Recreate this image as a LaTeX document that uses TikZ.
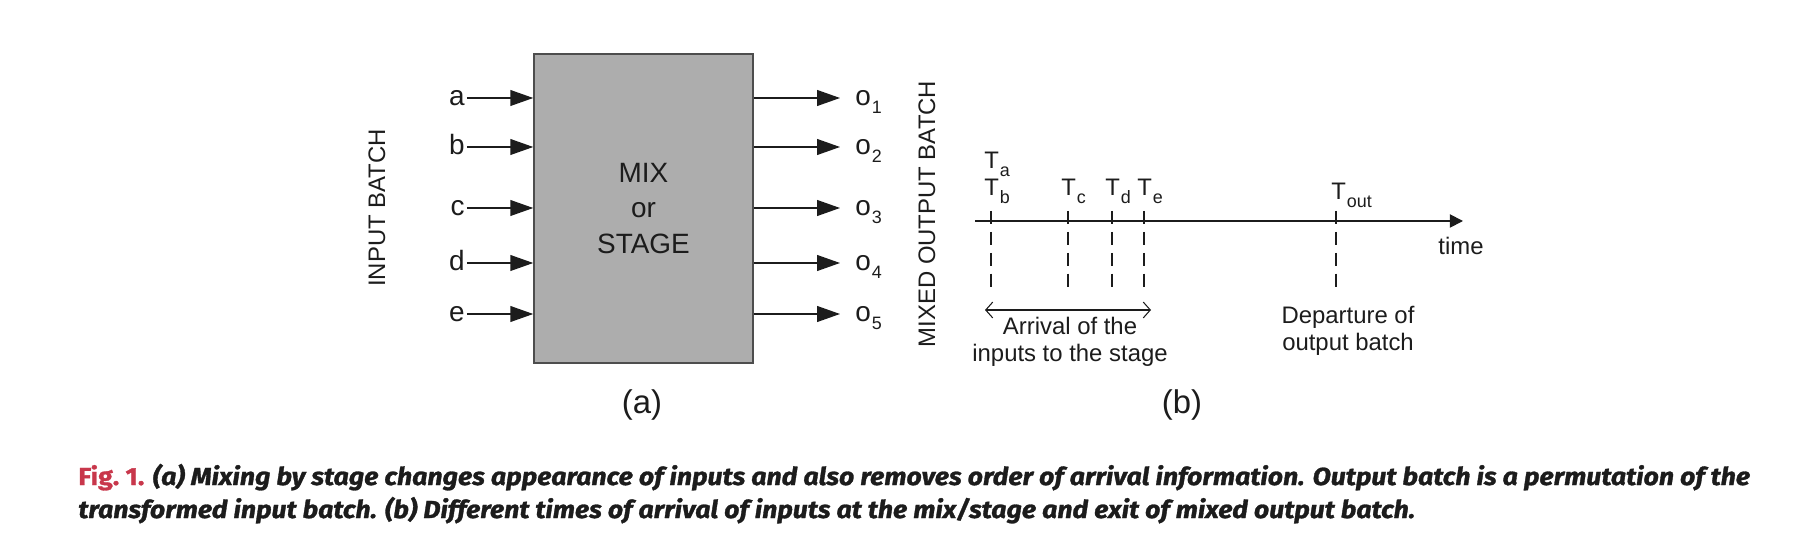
\documentclass[tikz,border=0pt]{standalone}
\usepackage{fontspec}
\setmainfont{Liberation Sans}
\newfontfamily\capfont[BoldFeatures={FakeBold=1.2}, BoldItalicFeatures={FakeBold=1.2}]{Fira Sans}
\usepackage{graphicx}
\usetikzlibrary{arrows.meta}
\definecolor{boxgray}{HTML}{ADADAD}
\definecolor{linegray}{HTML}{4D4D4D}
\definecolor{inkgray}{HTML}{1C1C1C}
\definecolor{figred}{HTML}{C8374B}
\newcommand{\lowsub}[1]{\kern0.5pt\raisebox{-4.5pt}{\fontsize{10.2pt}{12pt}\selectfont #1}}
\newcommand{\bigfont}{\fontsize{15.9pt}{20.1pt}\selectfont}
\newcommand{\smallfont}{\fontsize{13.6pt}{15.3pt}\selectfont}
\tikzset{
  inarrow/.style={draw=inkgray, line width=0.75pt, -{Triangle[length=13pt,width=9pt]}},
  timearrow/.style={draw=inkgray, line width=1pt, -{Triangle[length=7.5pt,width=7.5pt]}},
  spanarrow/.style={draw=inkgray, line width=0.6pt, {Straight Barb[length=4pt,width=9pt]}-{Straight Barb[length=4pt,width=9pt]}},
  tickline/.style={draw=inkgray, line width=0.6pt, dash pattern=on 7.4pt off 4.5pt},
  iolabel/.style={inner sep=0pt, text height=8.3pt, text depth=0pt, font=\bigfont, text=inkgray},
  tlabel/.style={anchor=base west, inner sep=0pt, font=\smallfont, text=inkgray},
}

\begin{document}
\begin{tikzpicture}[x=0.02cm, y=-0.02cm]
%%%%%%%%%%%%%%%%%%
\useasboundingbox (0,0) rectangle (1817,553);

%Stage box
    \node[draw=linegray, line width=0.9pt, fill=boxgray, minimum width=4.38cm, minimum height=6.18cm,
          align=center, font=\bigfont, text=inkgray] (box) at (643.5,208.5) {MIX\\or\\STAGE};
    \node[rotate=90, font=\smallfont, text=inkgray] (inbatch) at (377,208) {INPUT BATCH};

%Inputs and outputs
	\foreach \n/\y in {a/98, b/147, c/208, d/263, e/314}
	{
		\node[iolabel, anchor=east] (in\n) at (465,\y) {\n};
		\draw[inarrow] ([xshift=1pt]in\n.east) -- (in\n.east -| box.west);
	}
	\foreach \i/\y in {1/98, 2/147, 3/208, 4/263, 5/314}
	{
		\node[iolabel, anchor=west] (out\i) at (855,\y) {o\lowsub{\i}};
		\draw[inarrow] (out\i.west -| box.east) -- ([xshift=-0.3cm]out\i.west);
	}
    \node[font=\fontsize{18.7pt}{22pt}\selectfont, text=inkgray] (capa) at (642,405) {(a)};

%Time axis
    \node[rotate=90, font=\smallfont, text=inkgray] (outbatch) at (927,214) {MIXED OUTPUT BATCH};
    \coordinate (t0) at (975,221);
    \coordinate (t1) at (1463,221);
    \draw[timearrow] (t0) -- (t1);
    \node[font=\smallfont, text=inkgray] (timelbl) at (1461,246) {time};

% Arrival and departure marks
	\foreach \nm/\x in {ab/991, c/1068, d/1112, e/1144, out/1336}
	{
		\coordinate (tk\nm) at (\x,211);
		\coordinate (bt\nm) at (\x,288);
		\draw[tickline] (tk\nm) -- (bt\nm);
	}
    \node[tlabel] (Ta) at (984,169) {T\lowsub{a}};
    \node[tlabel] (Tb) at (984,196) {T\lowsub{b}};
    \node[tlabel] (Tc) at (1061,196) {T\lowsub{c}};
    \node[tlabel] (Td) at (1105,196) {T\lowsub{d}};
    \node[tlabel] (Te) at (1137,196) {T\lowsub{e}};
    \node[tlabel] (Tout) at (1331,200) {T\lowsub{out}};

    \coordinate (sp0) at (985,310);
    \coordinate (sp1) at (1151,310);
    \draw[spanarrow] (sp0) -- (sp1);
    \node[font=\smallfont, align=center, text=inkgray] (arrival) at (1070,342) {Arrival of the\\inputs to the stage};
    \node[font=\smallfont, align=center, text=inkgray] (departure) at (1348,331) {Departure of\\output batch};
    \node[font=\fontsize{18.7pt}{22pt}\selectfont, text=inkgray] (capb) at (1182,405) {(b)};

%Caption
\node[anchor=base west, inner sep=0pt, text=inkgray] (capline1) at (78,485) {\resizebox{33.44cm}{\height}{\capfont\bfseries\fontsize{14pt}{17pt}\selectfont{\color{figred}Fig.~1.} \itshape (a) Mixing by stage changes appearance of inputs and also removes order of arrival information. Output batch is a permutation of the}};
    \node[anchor=base west, inner sep=0pt, text=inkgray] (capline2) at (78,518) {\resizebox{26.74cm}{\height}{\capfont\bfseries\itshape\fontsize{14pt}{17pt}\selectfont transformed input batch. (b) Different times of arrival of inputs at the mix/stage and exit of mixed output batch.}};

\end{tikzpicture}
\end{document}
